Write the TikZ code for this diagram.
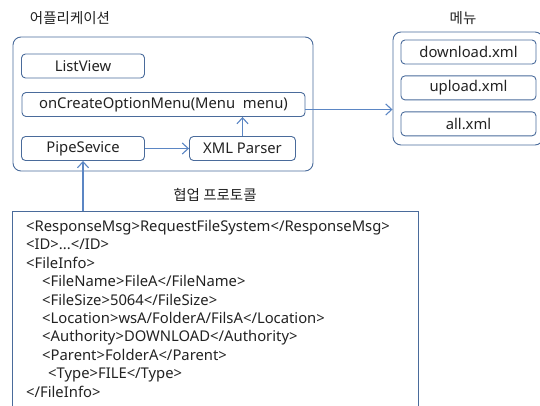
\documentclass[tikz,border=0pt]{standalone}
\usepackage{fontspec}
\setmainfont{Noto Sans}
\newfontfamily\krfont{Noto Sans CJK KR}
\usetikzlibrary{arrows.meta, positioning}
\definecolor{boxline}{HTML}{4A6B9B}
\definecolor{arrowline}{HTML}{5B86C4}
\definecolor{textcol}{HTML}{222222}

\begin{document}
\begin{tikzpicture}[x=1pt, y=-1pt,
    node distance=11pt,
    box/.style={draw=boxline, line width=0.9pt, rounded corners=4pt, minimum height=24pt, inner sep=0pt, text=textcol, font=\fontsize{14.8}{16}\selectfont},
    frame/.style={draw=boxline, line width=0.9pt, rounded corners=8pt, inner sep=0pt},
    title/.style={text=textcol, font=\krfont\fontsize{14.5}{16}\selectfont},
    xmltext/.style={text=textcol, inner sep=0pt, font=\fontsize{14.8}{16}\selectfont},
    arrow/.style={-{Straight Barb[length=6pt, width=11pt]}, draw=arrowline, line width=1.1pt}
  ]
  \useasboundingbox (0,0) rectangle (540,405);
  \clip (0,0) rectangle (540,405);

  % application
  \node[frame, minimum width=300pt, minimum height=134pt] (app) at (163,104) {};
  \node[title] (apptitle) at (70,18) {어플리케이션};
  \node[box, minimum width=123pt] (listview) at (83,66) {ListView};
  \node[box, minimum width=283pt] (oncreate) at (163.5,104.5) {onCreateOptionMenu(Menu\ \ menu)};
  \node[box, minimum width=123pt] (pipe) at (83,148.5) {PipeSevice};
  \node[box, minimum width=106pt] (parser) at (242.5,148.5) {XML Parser};

  % menu
  \node[frame, minimum width=150pt, minimum height=113pt] (menu) at (468,88.5) {};
  \node[title] (menutitle) at (463,18) {메뉴};
  \node[box, minimum width=135pt] (dl) at (468.5,52) {download.xml};
  \node[box, minimum width=135pt, below=11pt of dl] (ul) {upload.xml};
  \node[box, minimum width=135pt, below=11pt of ul] (all) {all.xml};

  % protocol
  \node[title] (prototitle) at (215,195) {협업 프로토콜};
  \node[draw=boxline, line width=0.9pt, minimum width=406pt, minimum height=210pt, anchor=north west] (proto) at (12,211) {};
  \foreach \ind/\txt [count=\i] in {
      0/{<ResponseMsg>RequestFileSystem</ResponseMsg>},
      0/{<ID>...</ID>},
      0/{<FileInfo>},
      16/{<FileName>FileA</FileName>},
      16/{<FileSize>5064</FileSize>},
      16/{<Location>wsA/FolderA/FilsA</Location>},
      16/{<Authority>DOWNLOAD</Authority>},
      16/{<Parent>FolderA</Parent>},
      22/{<Type>FILE</Type>},
      0/{</FileInfo>}}
    \node[xmltext, anchor=base west] (xml\i) at (26+\ind, 231.5+18.4*\i-18.4) {\txt};

  \draw[arrow] (pipe.east) -- (parser.west);
  \draw[arrow] (parser.north) -- (parser.north |- oncreate.south);
  \draw[arrow] ([yshift=-5pt]oncreate.east) -- ([yshift=-5pt]oncreate.east -| menu.west);
  \draw[arrow] (proto.north -| pipe.south) -- (pipe.south);
\end{tikzpicture}
\end{document}
